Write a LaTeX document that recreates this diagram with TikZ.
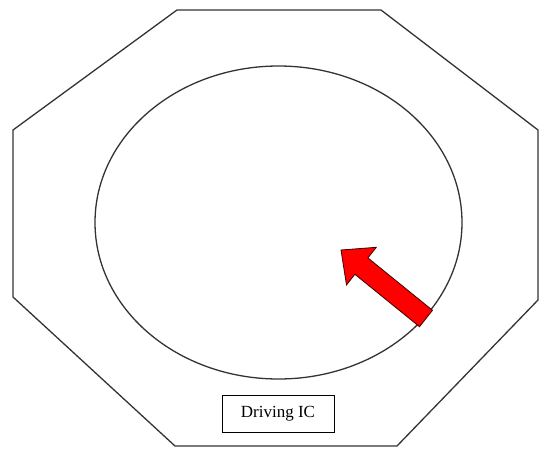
\documentclass[tikz,border=0pt]{standalone}
\usepackage{fontspec}
\setmainfont{Liberation Serif}
\begin{document}
\begin{tikzpicture}[x=1pt,y=-1pt,
  outline/.style={draw=black!80,line width=1.3pt,line join=miter},
  labelbox/.style={draw=black,line width=1pt,minimum width=112pt,minimum height=37pt,inner sep=0pt,font=\fontsize{17}{18}\selectfont},
  redarrow/.style={fill=red,draw=black!75!red,line width=0.8pt,line join=miter}]
\useasboundingbox (0,0) rectangle (539,448);
% octagonal panel
\draw[outline] (177,10) -- (381,10) -- (538,130) -- (538,300) -- (397,446) -- (175,446) -- (13,297) -- (13,130) -- cycle;
% display area
\draw[outline] (278.5,222.5) ellipse [x radius=183.5, y radius=156.5];
% label
\node[labelbox] (ic) at (278,413.5) {Driving IC};
% arrow
\coordinate (tip) at (341,250);
\draw[redarrow] (tip) -- (376.3,247.3) -- (367.9,257.9) -- (432.5,310.3) -- (419.5,326.7) -- (354.9,274.3) -- (346.5,284.9) -- cycle;
\end{tikzpicture}
\end{document}
